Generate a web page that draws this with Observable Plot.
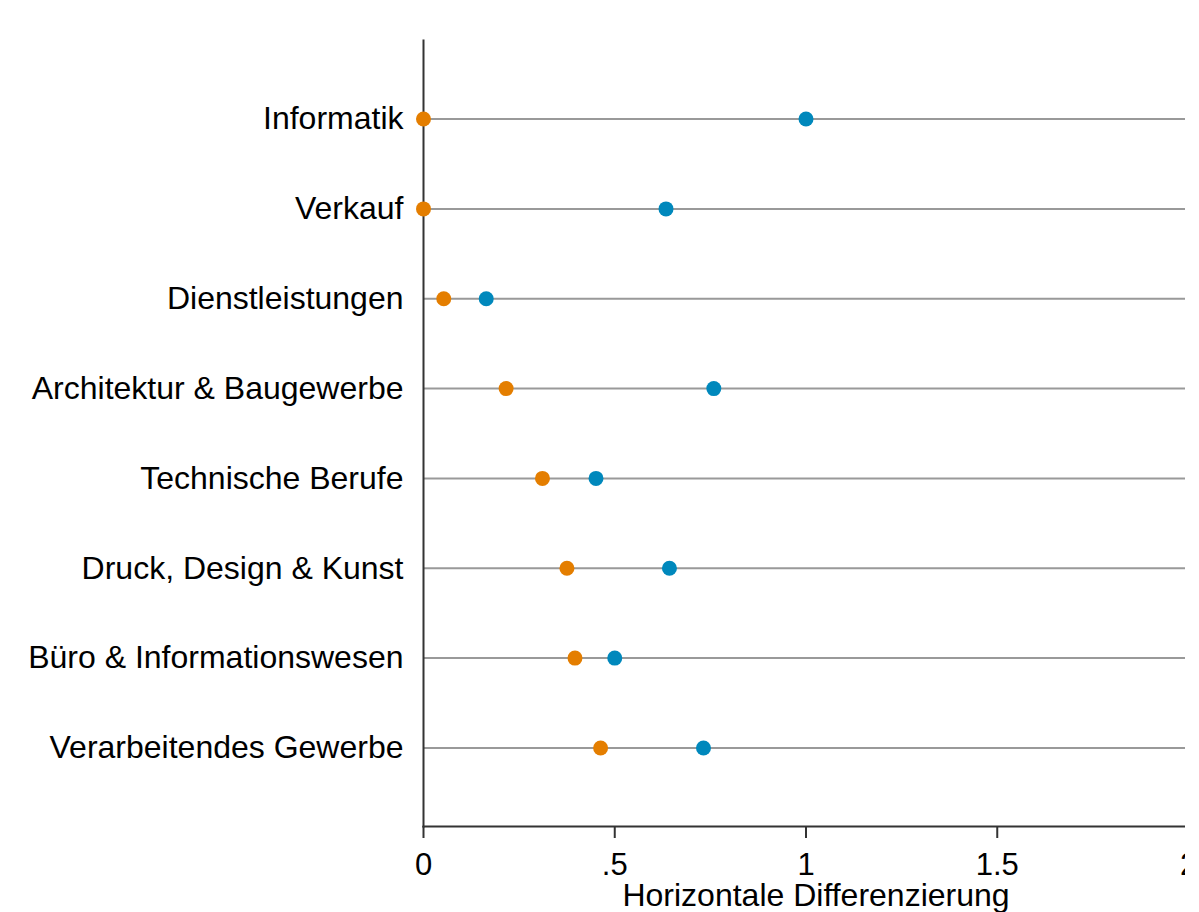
<!DOCTYPE html>
<html>
<head>
<meta charset="utf-8">
<script src="https://cdn.jsdelivr.net/npm/d3@7"></script>
<script src="https://cdn.jsdelivr.net/npm/@observablehq/plot@0.6"></script>
<style>
  html, body { margin: 0; padding: 0; background: #fff; overflow: hidden; }
  #topline { position: absolute; left: 24px; top: 6px; width: 1161px; height: 2px; background: #edf2f4; }
  #chart { position: absolute; left: 0; top: 0; width: 1185px; height: 912px; overflow: hidden; }
  #chart svg { max-width: none !important; }
</style>
</head>
<body>
<div id="topline"></div>
<div id="chart"></div>
<script>
const categories = [
  "Informatik",
  "Verkauf",
  "Dienstleistungen",
  "Architektur & Baugewerbe",
  "Technische Berufe",
  "Druck, Design & Kunst",
  "Büro & Informationswesen",
  "Verarbeitendes Gewerbe"
];
const seriesNames = ["Reihe 1", "Reihe 2"];
const seriesColors = ["#e47e00", "#0088bc"];
const orangeValues = [0, 0, 0.053, 0.216, 0.311, 0.375, 0.396, 0.463];
const blueValues = [1.0, 0.634, 0.164, 0.759, 0.451, 0.643, 0.5, 0.732];
const xTicks = [0, 0.5, 1, 1.5, 2];
const xTickLabels = ["0", ".5", "1", "1.5", "2"];
const xTitle = "Horizontale Differenzierung";

const data = [];
categories.forEach((c, i) => {
  data.push({cat: c, value: orangeValues[i], series: seriesNames[0]});
  data.push({cat: c, value: blueValues[i], series: seriesNames[1]});
});

const chart = Plot.plot({
  width: 1200,
  height: 912,
  marginLeft: 423,
  marginRight: 12,
  marginTop: 40,
  marginBottom: 86,
  style: {fontFamily: "'Liberation Sans', Arial, sans-serif", background: "white", color: "#000", maxWidth: "none"},
  x: {domain: [0, 2]},
  y: {type: "point", domain: categories, padding: 0.874, round: false},
  color: {domain: seriesNames, range: seriesColors},
  marks: [
    Plot.ruleY(categories, {stroke: "#999", strokeWidth: 2}),
    Plot.frame({anchor: "left", stroke: "#333", strokeWidth: 2}),
    Plot.frame({anchor: "bottom", stroke: "#333", strokeWidth: 2}),
    Plot.axisX({
      ticks: xTicks,
      tickFormat: d => xTickLabels[xTicks.indexOf(d)],
      tickSize: 12,
      tickPadding: 14,
      fontSize: 31,
      stroke: "#333",
      strokeWidth: 2,
      label: null
    }),
    Plot.axisY({tickSize: 0, tickPadding: 20, fontSize: 32, label: null}),
    Plot.dot(data, {x: "value", y: "cat", fill: "series", r: 7.5}),
    Plot.text([xTitle], {frameAnchor: "bottom", lineAnchor: "middle", dx: 10, dy: 69, fontSize: 32, fill: "#000"})
  ]
});
document.getElementById("chart").appendChild(chart);
</script>
</body>
</html>
